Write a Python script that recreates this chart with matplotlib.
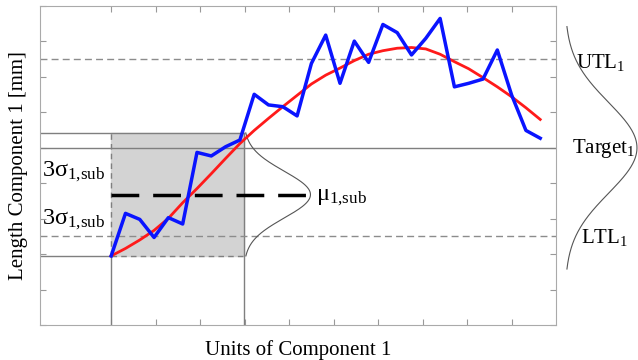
import numpy as np
import matplotlib
matplotlib.use("Agg")
import matplotlib.pyplot as plt

plt.rcParams['font.family'] = ['Liberation Serif', 'DejaVu Serif']
plt.rcParams['mathtext.fontset'] = 'custom'
plt.rcParams['mathtext.rm'] = 'Liberation Serif'
plt.rcParams['mathtext.it'] = 'Liberation Serif:italic'

# Measured component lengths (blue) and the smoothed trend (red), one value per unit
measured = [1.95, 3.15, 2.98, 2.47, 3.03, 2.85, 4.87, 4.77, 5.03, 5.22,
            6.51, 6.21, 6.16, 5.90, 7.38, 8.18, 6.82, 8.01, 7.41, 8.48,
            8.25, 7.62, 8.09, 8.65, 6.72, 6.82, 6.94, 7.76, 6.49, 5.49, 5.27]
trend = [1.95, 2.16, 2.40, 2.67, 3.01, 3.45, 3.85, 4.27, 4.70, 5.12,
         5.49, 5.83, 6.16, 6.48, 6.80, 7.05, 7.25, 7.46, 7.64, 7.74,
         7.81, 7.83, 7.79, 7.64, 7.43, 7.23, 6.98, 6.72, 6.44, 6.13, 5.80]
step = 0.3215
units = np.arange(len(measured)) * step

# tolerance limits of component 1
target = 5.0
utl = 7.5
ltl = 2.5
sigma_total = 1.28

# sub-sample window (first units)
sub_start = 0.0
sub_end = 2.98
sub_low = 1.95
sub_high = 5.42
sub_mean = 3.68
sub_sigma = 0.66

fig = plt.figure(figsize=(6.38, 3.6), dpi=100)
ax = fig.add_axes([0.0627, 0.0972, 0.8088, 0.886])
ax.set_xlim(-1.6, 10)
ax.set_ylim(0, 9)

grey = '#7f7f7f'

# grey shaded window
ax.fill_between([sub_start, sub_end], sub_low, sub_high, color='#d3d3d3', zorder=1)
ax.plot([-1.6, sub_end], [sub_high, sub_high], color=grey, lw=1, zorder=2)
ax.plot([sub_end, sub_end], [0, sub_high], color=grey, lw=1, zorder=2)
ax.plot([-1.6, sub_start], [sub_low, sub_low], color=grey, lw=1, zorder=2)
ax.plot([sub_start, sub_start], [0, sub_low], color=grey, lw=1, zorder=2)
ax.plot([sub_start, sub_end], [sub_low, sub_low], color=grey, lw=1, ls=(0, (4, 3)), zorder=2)
ax.plot([sub_start, sub_start], [sub_low, sub_high], color=grey, lw=1, ls=(0, (4, 3)), zorder=2)

# target and tolerance lines
ax.axhline(target, color=grey, lw=1, zorder=2)
ax.axhline(utl, color='#8c8c8c', lw=1, ls=(0, (5, 3)), zorder=2)
ax.axhline(ltl, color='#8c8c8c', lw=1, ls=(0, (5, 3)), zorder=2)

# sub-sample distribution next to the window
yy = np.linspace(sub_low, sub_high, 200)
ax.plot(sub_end + 1.5 * np.exp(-0.5 * ((yy - sub_mean) / sub_sigma) ** 2), yy,
        color='#555555', lw=0.8, zorder=3)
ax.plot([sub_start, sub_end + 1.5], [sub_mean, sub_mean], color='black', lw=2.5,
        ls=(0, (8, 4)), zorder=4)

ax.plot(units, trend, color='#ff1a1a', lw=2, zorder=5)
ax.plot(units, measured, color='#0a14ff', lw=2.5, zorder=6)

# overall distribution outside the axes
yy = np.linspace(target - 3.42, target + 3.42, 300)
ax.plot(10.2 + 1.62 * np.exp(-0.5 * ((yy - target) / sigma_total) ** 2), yy,
        color='#555555', lw=0.8, clip_on=False)

fs = 15
fs_sym = 17.5
ax.text(-1.55, 4.2, r'3$\mathrm{σ}_{1{,}\mathrm{sub}}$', fontsize=fs_sym)
ax.text(-1.55, 2.84, r'3$\mathrm{σ}_{1{,}\mathrm{sub}}$', fontsize=fs_sym)
ax.text(4.6, 3.53, r'$\mathrm{μ}_{1{,}\mathrm{sub}}$', fontsize=fs_sym)
ax.text(10.45, 7.25, r'UTL$_1$', fontsize=fs, clip_on=False)
ax.text(10.36, 4.85, r'Target$_1$', fontsize=fs, clip_on=False)
ax.text(10.56, 2.31, r'LTL$_1$', fontsize=fs, clip_on=False)

ax.set_xticks(np.arange(10))
ax.set_yticks(np.arange(10))
ax.tick_params(direction='in', length=4, top=True, right=True,
               labelleft=False, labelbottom=False, color='#999999')
for s in ax.spines.values():
    s.set_color('#aaaaaa')

ax.set_xlabel('Units of Component 1', fontsize=fs, labelpad=11)
ax.set_ylabel('Length Component 1 [mm]', fontsize=fs, labelpad=9)

fig.savefig('out.png', dpi=100)
